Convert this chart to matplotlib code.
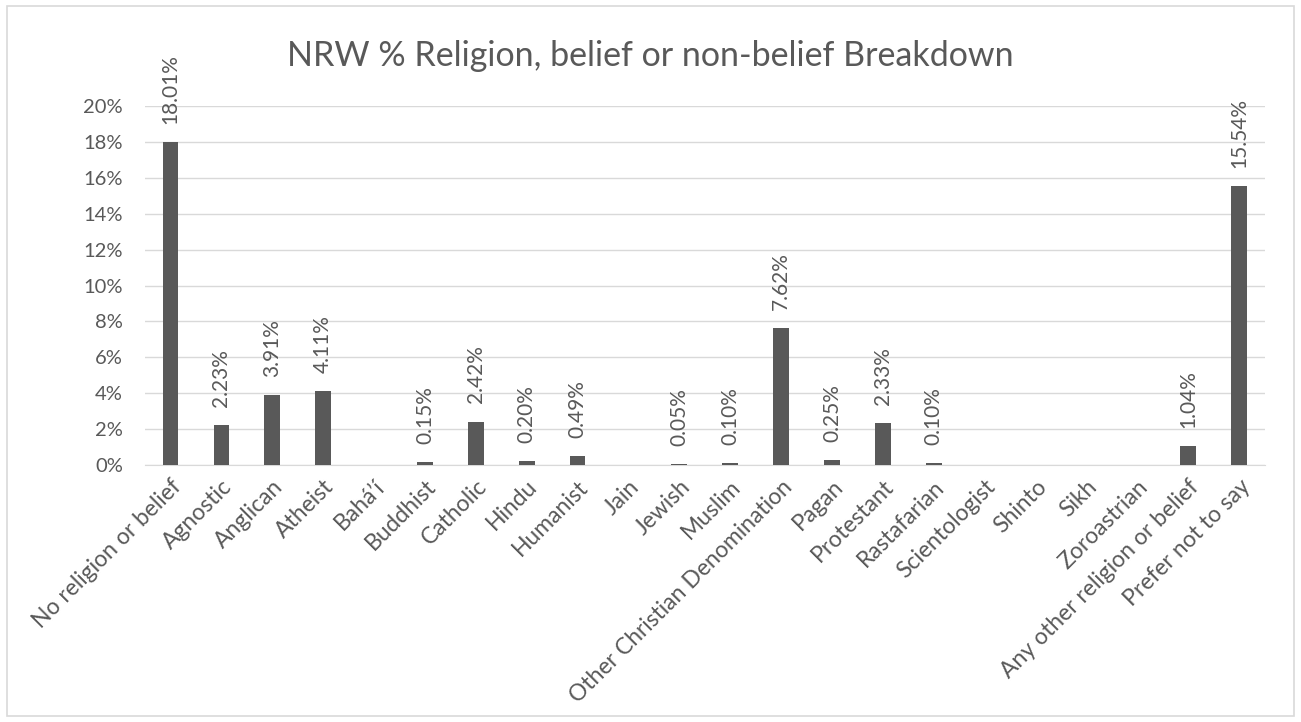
import matplotlib.pyplot as plt
import matplotlib.patches as patches
from matplotlib.ticker import FuncFormatter

# Data
categories = ['No religion or belief', 'Agnostic', 'Anglican', 'Atheist', 'Bahá’í', 'Buddhist',
              'Catholic', 'Hindu', 'Humanist', 'Jain', 'Jewish', 'Muslim',
              'Other Christian Denomination', 'Pagan', 'Protestant', 'Rastafarian',
              'Scientologist', 'Shinto', 'Sikh', 'Zoroastrian',
              'Any other religion or belief', 'Prefer not to say']
values = [18.01, 2.23, 3.91, 4.11, 0.0, 0.15,
          2.42, 0.20, 0.49, 0.0, 0.05, 0.10,
          7.62, 0.25, 2.33, 0.10,
          0.0, 0.0, 0.0, 0.0,
          1.04, 15.54]
yticks = [0, 2, 4, 6, 8, 10, 12, 14, 16, 18, 20]

txt = '#595959'
plt.rcParams['font.family'] = ['Lato', 'DejaVu Sans']

fig = plt.figure(figsize=(13.01, 7.22), dpi=100)
ax = fig.add_axes([0.1115, 0.356, 0.8605, 0.497])

x = range(len(categories))
ax.bar(x, values, width=0.31, color='#595959', zorder=3)

# value labels, only for non-zero bars
for xi, v in zip(x, values):
    if v > 0:
        ax.annotate(f'{v:.2f}%', xy=(xi, v), xytext=(0, 13), textcoords='offset points',
                    rotation=90, ha='center', va='bottom', fontsize=15, color=txt)

ax.set_xlim(-0.5, len(categories) - 0.5)
ax.set_ylim(0, 20)
ax.set_yticks(yticks)
ax.yaxis.set_major_formatter(FuncFormatter(lambda v, p: f'{v:.0f}%'))
ax.grid(axis='y', color='#d9d9d9', linewidth=1, zorder=0)
ax.set_xticks(list(x))
ax.set_xticklabels(categories, rotation=45, ha='right', rotation_mode='anchor',
                   fontsize=16.5, color=txt)
ax.tick_params(axis='y', labelsize=14.5, labelcolor=txt, length=0, pad=16)
ax.tick_params(axis='x', length=0, pad=8)
for s in ['top', 'right', 'left']:
    ax.spines[s].set_visible(False)
ax.spines['bottom'].set_color('#d9d9d9')
ax.spines['bottom'].set_zorder(1)

fig.text(0.5, 0.923, 'NRW % Religion, belief or non-belief Breakdown', ha='center', va='center',
         fontsize=24.5, color=txt)

# outer chart border
fig.patches.append(patches.Rectangle((0.005, 0.009), 0.99, 0.982, transform=fig.transFigure,
                                     fill=False, edgecolor='#d9d9d9', linewidth=1.2))

fig.savefig('out.png', dpi=100, facecolor='white')
